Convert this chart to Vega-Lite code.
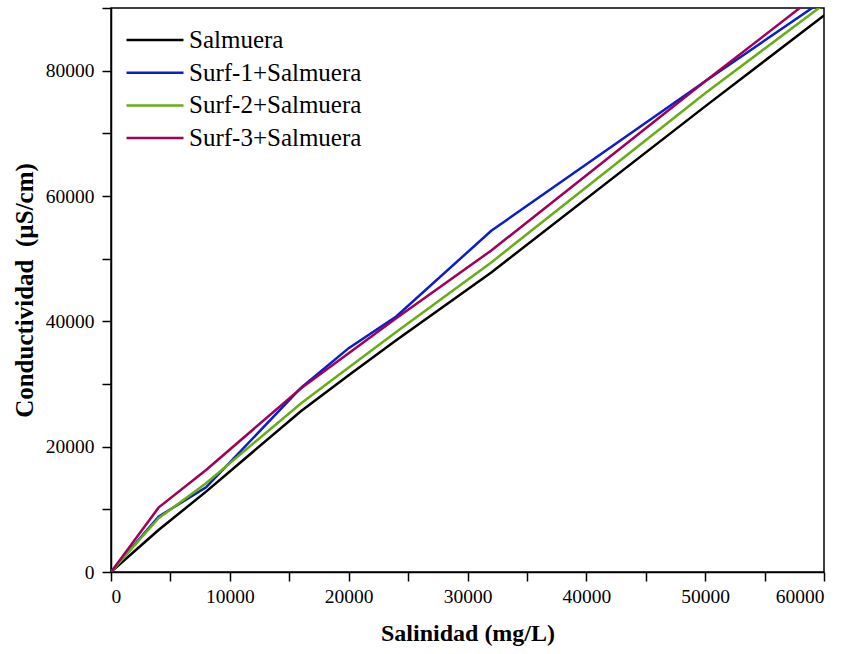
{
  "$schema": "https://vega.github.io/schema/vega-lite/v6.json",
  "width": 713,
  "height": 564,
  "autosize": "none",
  "padding": {"left": 111, "top": 8, "right": 29, "bottom": 82},
  "background": "white",
  "config": {
    "view": {"stroke": "#000000", "strokeWidth": 1.5},
    "font": "Liberation Serif",
    "axis": {
      "grid": false,
      "domainColor": "#000000",
      "domainWidth": 1.5,
      "tickColor": "#000000",
      "tickWidth": 1.5,
      "tickSize": 9,
      "labelFont": "Liberation Serif",
      "labelFontSize": 19.5,
      "labelColor": "#000000",
      "titleFont": "Liberation Serif",
      "titleFontSize": 24,
      "titleFontWeight": "bold",
      "titleColor": "#000000"
    },
    "legend": {
      "labelFont": "Liberation Serif",
      "labelFontSize": 25,
      "labelColor": "#000000",
      "labelLimit": 0
    }
  },
  "data": {
    "values": [
      {"s": 0, "c": 0, "serie": "Salmuera"},
      {"s": 4000, "c": 6700, "serie": "Salmuera"},
      {"s": 8000, "c": 12830, "serie": "Salmuera"},
      {"s": 16000, "c": 25700, "serie": "Salmuera"},
      {"s": 20000, "c": 31400, "serie": "Salmuera"},
      {"s": 24000, "c": 37000, "serie": "Salmuera"},
      {"s": 32000, "c": 47800, "serie": "Salmuera"},
      {"s": 50000, "c": 74300, "serie": "Salmuera"},
      {"s": 60000, "c": 88800, "serie": "Salmuera"},
      {"s": 0, "c": 0, "serie": "Surf-1+Salmuera"},
      {"s": 4000, "c": 8830, "serie": "Surf-1+Salmuera"},
      {"s": 8000, "c": 13520, "serie": "Surf-1+Salmuera"},
      {"s": 16000, "c": 29400, "serie": "Surf-1+Salmuera"},
      {"s": 20000, "c": 35720, "serie": "Surf-1+Salmuera"},
      {"s": 24000, "c": 40770, "serie": "Surf-1+Salmuera"},
      {"s": 32000, "c": 54450, "serie": "Surf-1+Salmuera"},
      {"s": 50000, "c": 78300, "serie": "Surf-1+Salmuera"},
      {"s": 60000, "c": 91300, "serie": "Surf-1+Salmuera"},
      {"s": 0, "c": 0, "serie": "Surf-2+Salmuera"},
      {"s": 4000, "c": 8570, "serie": "Surf-2+Salmuera"},
      {"s": 8000, "c": 14160, "serie": "Surf-2+Salmuera"},
      {"s": 16000, "c": 26940, "serie": "Surf-2+Salmuera"},
      {"s": 20000, "c": 32650, "serie": "Surf-2+Salmuera"},
      {"s": 24000, "c": 38300, "serie": "Surf-2+Salmuera"},
      {"s": 32000, "c": 49400, "serie": "Surf-2+Salmuera"},
      {"s": 50000, "c": 76400, "serie": "Surf-2+Salmuera"},
      {"s": 60000, "c": 90600, "serie": "Surf-2+Salmuera"},
      {"s": 0, "c": 0, "serie": "Surf-3+Salmuera"},
      {"s": 4000, "c": 10270, "serie": "Surf-3+Salmuera"},
      {"s": 8000, "c": 16290, "serie": "Surf-3+Salmuera"},
      {"s": 16000, "c": 29330, "serie": "Surf-3+Salmuera"},
      {"s": 20000, "c": 34920, "serie": "Surf-3+Salmuera"},
      {"s": 24000, "c": 40500, "serie": "Surf-3+Salmuera"},
      {"s": 32000, "c": 51300, "serie": "Surf-3+Salmuera"},
      {"s": 50000, "c": 78300, "serie": "Surf-3+Salmuera"},
      {"s": 60000, "c": 93000, "serie": "Surf-3+Salmuera"}
    ]
  },
  "mark": {"type": "line", "strokeWidth": 2.5, "clip": true},
  "encoding": {
    "x": {
      "field": "s",
      "type": "quantitative",
      "scale": {"domain": [0, 60000], "nice": false},
      "axis": {
        "title": "Salinidad (mg/L)",
        "values": [0, 5000, 10000, 15000, 20000, 25000, 30000, 35000, 40000, 45000, 50000, 55000, 60000],
        "format": "d",
        "labelExpr": "datum.value % 10000 == 0 ? datum.label : ''",
        "labelPadding": 6,
        "titlePadding": 16
      }
    },
    "y": {
      "field": "c",
      "type": "quantitative",
      "scale": {"domain": [0, 90000], "nice": false},
      "axis": {
        "title": "Conductividad\u00a0 (µS/cm)",
        "titleFontSize": 25,
        "values": [0, 10000, 20000, 30000, 40000, 50000, 60000, 70000, 80000, 90000],
        "format": "d",
        "labelExpr": "datum.value % 20000 == 0 && datum.value < 90000 ? datum.label : ''",
        "labelPadding": 8,
        "titlePadding": 8
      }
    },
    "color": {
      "field": "serie",
      "type": "nominal",
      "scale": {
        "domain": ["Salmuera", "Surf-1+Salmuera", "Surf-2+Salmuera", "Surf-3+Salmuera"],
        "range": ["#000000", "#0A1ECC", "#66AE14", "#A0005A"]
      },
      "legend": {
        "title": null,
        "orient": "none",
        "legendX": 31.5,
        "legendY": 19.5,
        "symbolType": "M-3,0H3",
        "symbolSize": 361,
        "symbolStrokeWidth": 2.5,
        "labelOffset": 21.5,
        "labelLimit": 0,
        "rowPadding": 6.7
      }
    }
  }
}
